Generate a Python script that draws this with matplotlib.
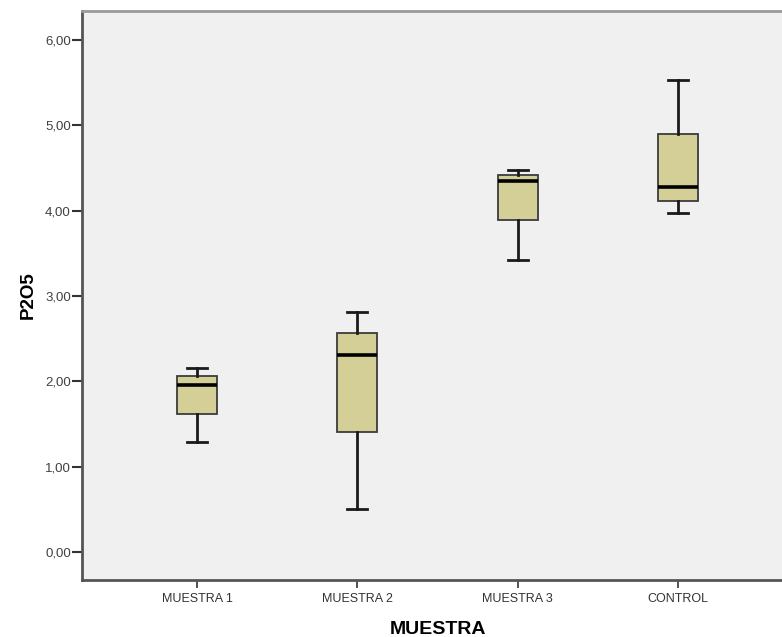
import matplotlib
matplotlib.use("Agg")
import matplotlib.pyplot as plt

# Values
categories = ["MUESTRA 1", "MUESTRA 2", "MUESTRA 3", "CONTROL"]
whisker_low = [1.29, 0.50, 3.42, 3.97]
q1 = [1.62, 1.40, 3.89, 4.11]
median = [1.95, 2.31, 4.35, 4.28]
q3 = [2.06, 2.56, 4.42, 4.90]
whisker_high = [2.16, 2.81, 4.48, 5.53]
yticks = [0, 1, 2, 3, 4, 5, 6]

plt.rcParams['font.family'] = ['Liberation Sans', 'DejaVu Sans']

fig = plt.figure(figsize=(7.82, 6.37), dpi=100)
# right edge of the plot frame lies just beyond the image, as in the reference
ax = fig.add_axes([82 / 782, 57 / 637, 711 / 782, 569 / 637])
ax.set_facecolor('#f0f0f0')

stats = []
for i in range(len(categories)):
    stats.append({
        'label': categories[i],
        'whislo': whisker_low[i],
        'q1': q1[i],
        'med': median[i],
        'q3': q3[i],
        'whishi': whisker_high[i],
        'fliers': [],
    })

ax.bxp(stats, positions=range(1, len(categories) + 1), widths=0.25,
       patch_artist=True, showfliers=False,
       boxprops=dict(facecolor='#d4cf97', edgecolor='#3c3c3c', linewidth=1.3),
       medianprops=dict(color='black', linewidth=2.6),
       whiskerprops=dict(color='#1a1a1a', linewidth=2),
       capprops=dict(color='#1a1a1a', linewidth=2),
       capwidths=0.125)

ax.set_xlim(0.283, 4.717)
ax.set_ylim(-0.33, 6.34)
ax.set_yticks(yticks)
ax.set_yticklabels([f"{v:.2f}".replace('.', ',') for v in yticks])

ax.tick_params(axis='y', direction='out', length=7, width=1.5, color='#333333',
               labelsize=9.5, labelcolor='#404040', pad=1)
ax.tick_params(axis='x', direction='out', length=6, width=1.2, color='#333333',
               labelsize=9, labelcolor='#333333', pad=3)

for side in ['left', 'bottom']:
    ax.spines[side].set_color('#555555')
    ax.spines[side].set_linewidth(2)
ax.spines['top'].set_color('#9a9a9a')
ax.spines['top'].set_linewidth(2)
ax.spines['right'].set_visible(False)

ax.set_xlabel('MUESTRA', fontsize=14, fontweight='bold', labelpad=12)
ax.set_ylabel('P2O5', fontsize=13.5, fontweight='bold', labelpad=6)

fig.savefig('out.png', dpi=100, facecolor='white')
